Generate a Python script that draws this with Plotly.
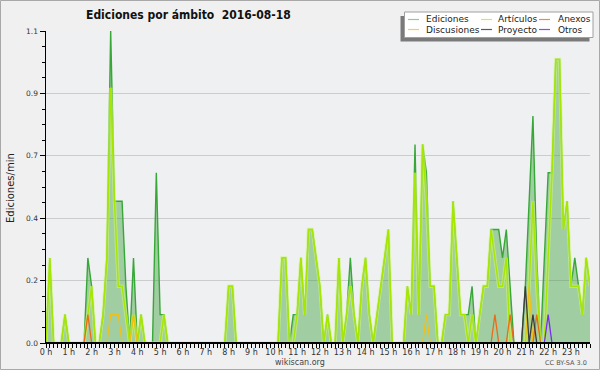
import plotly.graph_objects as go

# ---- data: edits per minute in 10-minute bins, 2016-08-18 (144 bins, 12 per line = 2 hours) ----
bin_hours = [i / 6 for i in range(144)]

ediciones = [
    0, .3, 0, 0, 0, .1, 0, 0, 0, 0, 0, .3,
    .2, 0, 0, .1, .3, 1.1, .5, .5, .5, .2, 0, .3,
    0, .1, 0, 0, 0, .6, .1, .1, 0, 0, 0, 0,
    0, 0, 0, 0, 0, 0, 0, 0, 0, 0, 0, 0,
    .2, .2, 0, 0, 0, 0, 0, 0, 0, 0, 0, 0,
    0, 0, .3, .3, 0, .1, .1, .3, .1, .4, .4, .3,
    .2, 0, .1, 0, 0, .3, 0, .1, .3, .1, 0, .2,
    .3, .1, 0, .1, .2, .3, .4, 0, 0, 0, 0, .2,
    .1, .7, .1, .7, .6, .2, .2, 0, 0, .1, .1, .5,
    .3, .1, .1, .1, .2, 0, .1, .2, .2, .4, .4, .4,
    .3, .4, .2, 0, 0, 0, .2, .5, .8, .3, 0, .3,
    .6, .6, 1.0, 1.0, .4, .5, .2, .3, .2, .1, .3, .2,
]

articulos = [
    0, .3, 0, 0, 0, .1, 0, 0, 0, 0, 0, .1,
    .2, 0, 0, .1, .3, .9, .5, .2, .2, .1, 0, .1,
    0, .1, 0, 0, 0, 0, 0, .1, 0, 0, 0, 0,
    0, 0, 0, 0, 0, 0, 0, 0, 0, 0, 0, 0,
    .2, .2, 0, 0, 0, 0, 0, 0, 0, 0, 0, 0,
    0, 0, .3, .3, 0, 0, .1, .3, .1, .4, .4, .3,
    .2, 0, .1, 0, 0, .3, 0, .1, .2, .1, 0, .2,
    .3, .1, 0, .1, .2, .3, .4, 0, 0, 0, 0, .2,
    .1, .6, .1, .7, .5, .2, .2, 0, 0, .1, .1, .5,
    .3, .1, .1, 0, .1, 0, .1, .2, .2, .4, .3, .2,
    .2, .3, 0, 0, 0, 0, 0, .2, .5, .2, 0, 0,
    .3, .6, 1.0, 1.0, .4, .5, .2, .2, .2, .1, .3, .2,
]

anexos = [
    0, 0, 0, 0, 0, 0, 0, 0, 0, 0, 0, .1,
    0, 0, 0, 0, 0, 0, 0, 0, 0, 0, 0, 0,
    0, 0, 0, 0, 0, 0, 0, 0, 0, 0, 0, 0,
    0, 0, 0, 0, 0, 0, 0, 0, 0, 0, 0, 0,
    0, 0, 0, 0, 0, 0, 0, 0, 0, 0, 0, 0,
    0, 0, 0, 0, 0, 0, 0, 0, 0, 0, 0, 0,
    0, 0, 0, 0, 0, 0, 0, 0, 0, 0, 0, 0,
    0, 0, 0, 0, 0, 0, 0, 0, 0, 0, 0, 0,
    0, 0, 0, 0, 0, 0, 0, 0, 0, 0, 0, 0,
    0, 0, 0, 0, 0, 0, 0, 0, 0, 0, .1, 0,
    0, 0, .1, 0, 0, 0, 0, 0, 0, .1, 0, 0,
    0, 0, 0, 0, 0, 0, 0, 0, 0, 0, 0, 0,
]

discusiones = [
    0, 0, 0, 0, 0, 0, 0, 0, 0, 0, 0, 0,
    0, 0, 0, 0, 0, .1, .1, .1, 0, 0, 0, .1,
    0, 0, 0, 0, 0, 0, 0, 0, 0, 0, 0, 0,
    0, 0, 0, 0, 0, 0, 0, 0, 0, 0, 0, 0,
    0, 0, 0, 0, 0, 0, 0, 0, 0, 0, 0, 0,
    0, 0, 0, 0, 0, 0, 0, 0, 0, 0, 0, 0,
    0, 0, 0, 0, 0, 0, 0, 0, 0, 0, 0, 0,
    0, 0, 0, 0, 0, 0, 0, 0, 0, 0, 0, 0,
    0, 0, 0, 0, .1, 0, 0, 0, 0, 0, 0, 0,
    0, 0, 0, 0, 0, 0, 0, 0, 0, 0, 0, 0,
    0, 0, 0, 0, 0, 0, 0, .2, 0, 0, 0, 0,
    0, 0, 0, 0, 0, 0, 0, 0, 0, 0, 0, 0,
]

proyecto = [
    0, 0, 0, 0, 0, 0, 0, 0, 0, 0, 0, 0,
    0, 0, 0, 0, 0, 0, 0, 0, 0, 0, 0, 0,
    0, 0, 0, 0, 0, 0, 0, 0, 0, 0, 0, 0,
    0, 0, 0, 0, 0, 0, 0, 0, 0, 0, 0, 0,
    0, 0, 0, 0, 0, 0, 0, 0, 0, 0, 0, 0,
    0, 0, 0, 0, 0, 0, 0, 0, 0, 0, 0, 0,
    0, 0, 0, 0, 0, 0, 0, 0, 0, 0, 0, 0,
    0, 0, 0, 0, 0, 0, 0, 0, 0, 0, 0, 0,
    0, 0, 0, 0, 0, 0, 0, 0, 0, 0, 0, 0,
    0, 0, 0, 0, 0, 0, 0, 0, 0, 0, 0, 0,
    0, 0, 0, 0, 0, 0, .2, 0, .1, 0, 0, 0,
    0, 0, 0, 0, 0, 0, 0, 0, 0, 0, 0, 0,
]

otros = [
    0, 0, 0, 0, 0, 0, 0, 0, 0, 0, 0, 0,
    0, 0, 0, 0, 0, 0, 0, 0, 0, 0, 0, 0,
    0, 0, 0, 0, 0, 0, 0, 0, 0, 0, 0, 0,
    0, 0, 0, 0, 0, 0, 0, 0, 0, 0, 0, 0,
    0, 0, 0, 0, 0, 0, 0, 0, 0, 0, 0, 0,
    0, 0, 0, 0, 0, 0, 0, 0, 0, 0, 0, 0,
    0, 0, 0, 0, 0, 0, 0, 0, 0, 0, 0, 0,
    0, 0, 0, 0, 0, 0, 0, 0, 0, 0, 0, 0,
    0, 0, 0, 0, 0, 0, 0, 0, 0, 0, 0, 0,
    0, 0, 0, 0, 0, 0, 0, 0, 0, 0, 0, 0,
    0, 0, 0, 0, 0, 0, 0, 0, 0, 0, 0, 0,
    .1, 0, 0, 0, 0, 0, 0, 0, 0, 0, 0, 0,
]

hour_ticks = list(range(24))
hour_labels = [f"{h} h" for h in hour_ticks]
y_ticks = [0, 0.22, 0.44, 0.66, 0.88, 1.1]
y_labels = ["0.0", "0.2", "0.4", "0.7", "0.9", "1.1"]

legend_names = ["Ediciones", "Artículos", "Anexos", "Discusiones", "Proyecto", "Otros"]

title_text = "Ediciones por ámbito  2016-08-18"

# ---- layout geometry (pixels) ----
PL, PR, PT, PB = 46, 590, 31, 343
W, H = PR - PL, PB - PT


def px(x):
    return (x - PL) / W


def py(y):
    return (PB - y) / H


FONT = "DejaVu Sans"

fig = go.Figure()

fig.add_trace(go.Scatter(
    x=bin_hours, y=ediciones, mode="lines", name="Ediciones",
    line=dict(color="#37a837", width=1.4), fill="tozeroy",
    fillcolor="rgba(62,160,62,0.44)", showlegend=False, hoverinfo="skip"))
fig.add_trace(go.Scatter(
    x=bin_hours, y=articulos, mode="lines", name="Artículos halo",
    line=dict(color="rgba(205,245,120,0.6)", width=3.4), showlegend=False, hoverinfo="skip"))
fig.add_trace(go.Scatter(
    x=bin_hours, y=articulos, mode="lines", name="Artículos",
    line=dict(color="#a6e600", width=1.4), showlegend=False, hoverinfo="skip"))
fig.add_trace(go.Scatter(
    x=bin_hours, y=discusiones, mode="lines", name="Discusiones",
    line=dict(color="#f0c018", width=1.3), showlegend=False, hoverinfo="skip"))
fig.add_trace(go.Scatter(
    x=bin_hours, y=anexos, mode="lines", name="Anexos",
    line=dict(color="#ec6a18", width=1.3), showlegend=False, hoverinfo="skip"))
fig.add_trace(go.Scatter(
    x=bin_hours, y=proyecto, mode="lines", name="Proyecto",
    line=dict(color="#3c3c3c", width=1.3), showlegend=False, hoverinfo="skip"))
fig.add_trace(go.Scatter(
    x=bin_hours, y=otros, mode="lines", name="Otros",
    line=dict(color="#7a2cf0", width=1.3), showlegend=False, hoverinfo="skip"))

shapes = []
annotations = []

# black baseline over the zero-level of the series
shapes.append(dict(type="line", xref="paper", yref="y", x0=0, x1=1, y0=0, y1=0,
                   line=dict(color="#000", width=2), layer="above"))

# outer frame
shapes.append(dict(type="rect", xref="paper", yref="paper",
                   x0=px(0.5), x1=px(599.5), y0=py(369.5), y1=py(0.5),
                   line=dict(color="#a8a8a8", width=1), layer="above"))

# legend box with shadow
shapes.append(dict(type="rect", xref="paper", yref="paper",
                   x0=px(400.5), x1=px(589.5), y0=py(41.5), y1=py(16),
                   fillcolor="#7a7a7a", line=dict(width=0), layer="above"))
shapes.append(dict(type="rect", xref="paper", yref="paper",
                   x0=px(404.5), x1=px(593), y0=py(37.5), y1=py(12),
                   fillcolor="#ffffff", line=dict(color="#a0a0a0", width=1), layer="above"))

legend_colors = ["#8ccf8c", "#c6ee5a", "#f08a4a", "#f6cf48", "#5a5a5a", "#9048f0"]
col_line_x = [(408, 419), (481, 492), (539, 550)]
col_text_x = [424, 496, 556]
row_y = [19.5, 29.5]
for k, name in enumerate(legend_names):
    r, c = divmod(k, 3)
    x0, x1 = col_line_x[c]
    shapes.append(dict(type="line", xref="paper", yref="paper",
                       x0=px(x0), x1=px(x1), y0=py(row_y[r]), y1=py(row_y[r]),
                       line=dict(color=legend_colors[k], width=1.2), layer="above"))
    annotations.append(dict(text=name, xref="paper", yref="paper",
                            x=px(col_text_x[c]), y=py(row_y[r]), xanchor="left", yanchor="middle",
                            showarrow=False, font=dict(family=FONT, size=9, color="#222")))

# title
annotations.append(dict(text="<b>" + title_text + "</b>", xref="paper", yref="paper",
                        x=px(188), y=py(15), xanchor="center", yanchor="middle",
                        showarrow=False, font=dict(family="DejaVu Sans Condensed, DejaVu Sans", size=12, color="#111")))
# y title
annotations.append(dict(text="Ediciones/min", xref="paper", yref="paper",
                        x=px(10), y=py(188), xanchor="center", yanchor="middle", textangle=-90,
                        showarrow=False, font=dict(family=FONT, size=10, color="#222")))
# footer
annotations.append(dict(text="wikiscan.org", xref="paper", yref="paper",
                        x=px(300), y=py(362), xanchor="center", yanchor="middle",
                        showarrow=False, font=dict(family=FONT, size=8, color="#444")))
annotations.append(dict(text="CC BY-SA 3.0", xref="paper", yref="paper",
                        x=px(589), y=py(362.5), xanchor="right", yanchor="middle",
                        showarrow=False, font=dict(family=FONT, size=6.5, color="#555")))

fig.update_layout(
    width=600, height=370, autosize=False,
    margin=dict(l=PL, r=600 - PR, t=PT, b=370 - PB, pad=0),
    paper_bgcolor="#f0f0f0", plot_bgcolor="#eff0f2",
    showlegend=False, shapes=shapes, annotations=annotations,
    font=dict(family=FONT, color="#333"),
)
fig.update_xaxes(
    range=[0, 143 / 6], tickvals=hour_ticks, ticktext=hour_labels,
    showgrid=False, zeroline=False, showline=True, linecolor="#000", linewidth=1,
    ticks="outside", ticklen=4, tickwidth=1, tickcolor="#000",
    tickfont=dict(family=FONT, size=8, color="#333"), ticklabelstandoff=-3,
    minor=dict(dtick=1 / 6, tick0=0, ticks="outside", ticklen=4, tickwidth=1, tickcolor="#000", showgrid=False),
    fixedrange=True,
)
fig.update_yaxes(
    range=[0, 1.1], tickvals=y_ticks, ticktext=y_labels,
    showgrid=True, gridcolor="#cccccc", gridwidth=1, zeroline=False,
    showline=True, linecolor="#000", linewidth=1.5,
    ticks="outside", ticklen=5, tickwidth=1, tickcolor="#000",
    tickfont=dict(family=FONT, size=7.5, color="#333"),
    minor=dict(dtick=0.055, tick0=0, ticks="outside", ticklen=3, tickwidth=1, tickcolor="#000", showgrid=False),
    fixedrange=True,
)

fig.write_html(
    "out.html",
    config={"displayModeBar": False, "staticPlot": True},
    post_script="document.body.style.margin='0';document.body.style.padding='0';document.body.style.overflow='hidden';",
)
